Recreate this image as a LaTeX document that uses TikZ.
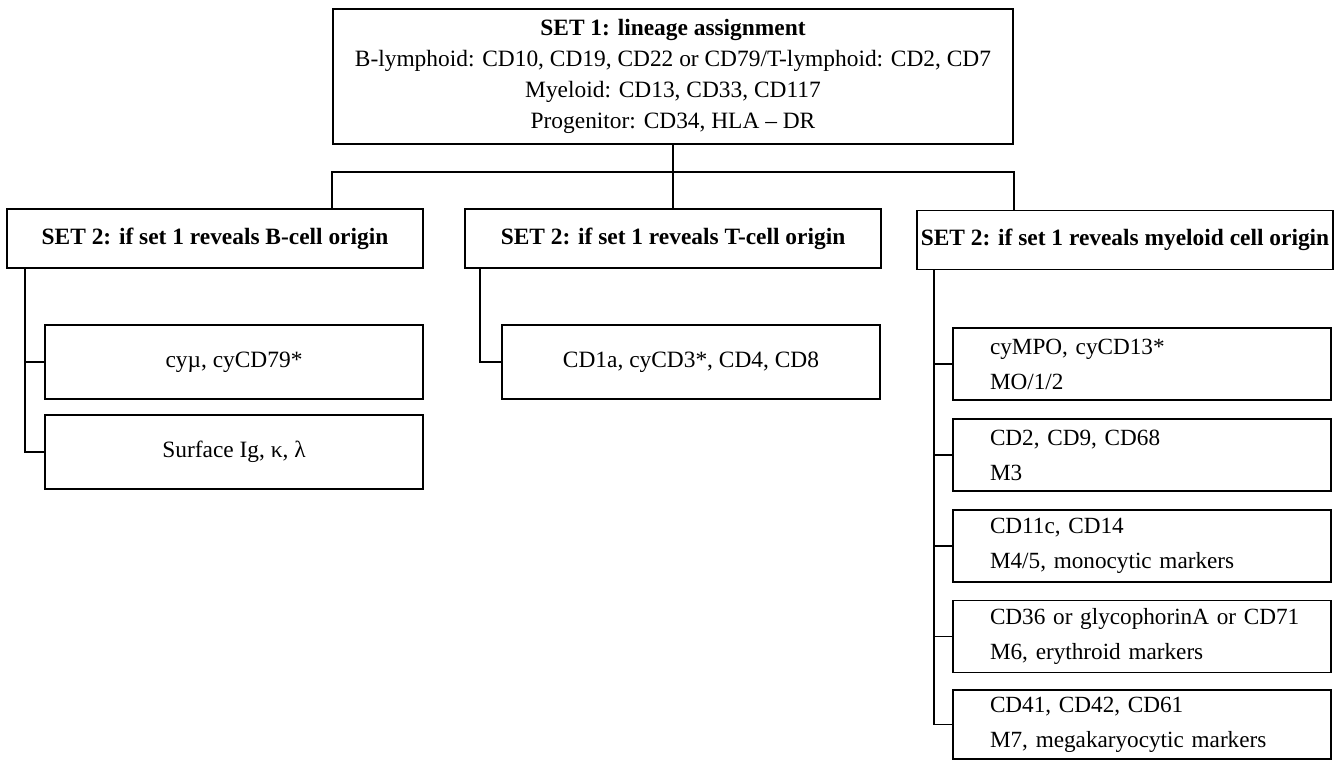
\documentclass[tikz,border=0pt]{standalone}
\usepackage{fontspec}
\setmainfont{Liberation Serif}
\usepackage{tikz}
\tikzset{
  setbox/.style={draw, line width=0.8pt, inner xsep=1pt, minimum width=208pt, minimum height=29.5pt, font=\fontsize{11.7}{15.5}\selectfont\bfseries},
  markbox/.style={draw, line width=0.8pt, minimum width=189pt, minimum height=37pt, font=\fontsize{11.7}{15.5}\selectfont},
  myelobox/.style={draw, line width=0.8pt, align=left, text width=152pt, inner xsep=18.5pt, inner ysep=1pt, minimum height=36pt, font=\fontsize{11.6}{17.5}\selectfont},
  link/.style={line width=0.8pt}
}

\begin{document}
\begin{tikzpicture}[x=0.5pt, y=-0.5pt]
      \useasboundingbox (0,0) rectangle (1343,760);
      % first set
      \node[draw, line width=0.8pt, minimum width=340pt, minimum height=67.5pt, align=center, font=\fontsize{11.7}{15.5}\selectfont] at (673, 76.5) (set1) {\textbf{SET 1: lineage assignment}\\B-lymphoid: CD10, CD19, CD22 or CD79/T-lymphoid: CD2, CD7\\Myeloid: CD13, CD33, CD117\\Progenitor: CD34, HLA -- DR};
      \coordinate (fork) at (673, 172);
      % second sets
      \node[setbox] at (215, 238.5) (bset) {SET 2: if set 1 reveals B-cell origin};
      \node[setbox] at (673, 238.5) (tset) {SET 2: if set 1 reveals T-cell origin};
      \node[setbox] at (1125, 240) (mset) {SET 2: if set 1 reveals myeloid cell origin};
      \draw[link] (set1.south) -- (fork);
      \draw[link] (bset.north -| set1.south west) |- (fork) -| (mset.north -| set1.south east);
      \draw[link] (fork) -- (tset.north);
      % B-cell markers
      \node[markbox] at (234, 362) (bcyt) {cy\textmu, cyCD79*};
      \node[markbox] at (234, 452) (bsurf) {Surface Ig, κ, λ};
      \draw[link] ([xshift=9.5pt]bset.south west) |- (bcyt.west);
      \draw[link] ([xshift=9.5pt]bset.south west) |- (bsurf.west);
      % T-cell markers
      \node[markbox] at (691, 362) (tcd) {CD1a, cyCD3*, CD4, CD8};
      \draw[link] ([xshift=8pt]tset.south west) |- (tcd.west);
      % myeloid markers
      \node[myelobox] at (1142, 364) (mmpo) {cyMPO, cyCD13*\\MO/1/2};
      \node[myelobox] at (1142, 455) (mcd2) {CD2, CD9, CD68\\M3};
      \node[myelobox] at (1142, 546) (mcd11) {CD11c, CD14\\M4/5, monocytic markers};
      \node[myelobox] at (1142, 636.5) (mcd36) {\mbox{CD36 or glycophorinA or CD71}\\M6, erythroid markers};
      \node[myelobox, minimum height=34.5pt] at (1142, 724.5) (mcd41) {CD41, CD42, CD61\\M7, megakaryocytic markers};
      \foreach \m in {mmpo, mcd2, mcd11, mcd36, mcd41}
        \draw[link] ([xshift=9pt]mset.south west) |- (\m.west);
    \end{tikzpicture}
\end{document}
